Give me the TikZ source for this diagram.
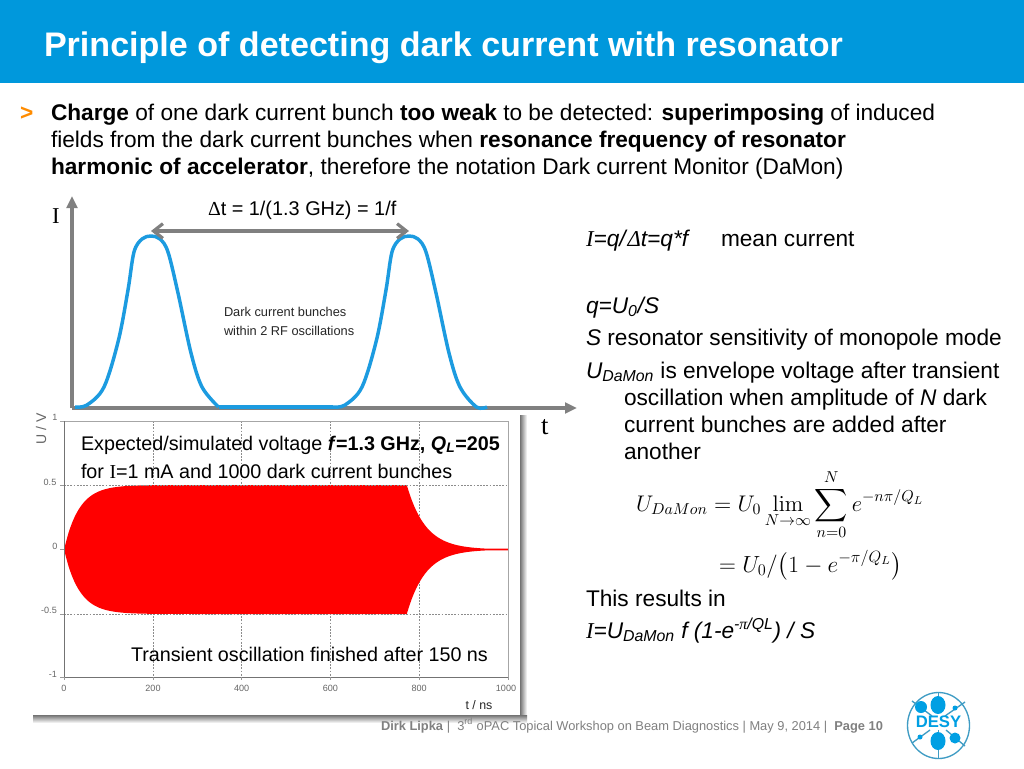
\RequirePackage{fix-cm}
\documentclass[tikz,border=0pt]{standalone}
\usepackage{amsmath}
\usepackage[no-math]{fontspec}
\setmainfont{Liberation Sans}
\newfontfamily\tms{Liberation Serif}
\usetikzlibrary{arrows.meta}
\definecolor{desyblue}{HTML}{009FE3}
\definecolor{bandblue}{HTML}{0098DC}
\definecolor{axisgray}{HTML}{808080}
\definecolor{curveblue}{HTML}{1C9BE0}
\definecolor{gridgray}{HTML}{8C8C8C}
\definecolor{logoedge}{HTML}{3F9CC4}
\definecolor{footgray}{HTML}{808080}
\tikzset{
 txt/.style={anchor=base west,inner sep=0pt,outer sep=0pt,font=\fontsize{17}{19}\selectfont,text=black},
 boxtxt/.style={txt,font=\fontsize{14.8}{17}\selectfont},
 smalltxt/.style={txt,font=\fontsize{9.6}{11}\selectfont,text=black!85},
 ticktxt/.style={anchor=center,inner sep=0pt,font=\fontsize{6.8}{8}\selectfont,text=black!60},
 axisline/.style={draw=axisgray,line width=2.4pt,-{Triangle[length=9pt,width=8pt]}},
 griddash/.style={draw=gridgray,line width=0.45pt,dash pattern=on 1.3pt off 1.1pt},
 frameline/.style={draw=black!55,line width=0.6pt},
 logoline/.style={draw=logoedge,line width=1pt},
}
\newcommand{\sy}[1]{{\tms\itshape #1}}
\begin{document}
\begin{tikzpicture}[x=0.75pt,y=-0.75pt]
\useasboundingbox (0,0) rectangle (1024,768);
\fill[white] (0,0) rectangle (1024,768);
% title band
\fill[bandblue] (0,0) rectangle (1024,83);
\node[txt,text=white,font=\fontsize{25.55}{28}\bfseries\selectfont] (title) at (44,56) {Principle of detecting dark current with resonator};
% intro
\node[txt,text=orange!90!yellow,font=\fontsize{17}{19}\bfseries\selectfont] (bullet) at (20,120) {>};
\node[txt] (l1) at (51,120) {\textbf{Charge} of one dark current bunch \textbf{too weak} to be detected: \textbf{superimposing} of induced};
\node[txt] (l2) at (51,147) {fields from the dark current bunches when \textbf{resonance frequency of resonator}};
\node[txt] (l3) at (51,174) {\textbf{harmonic of accelerator}, therefore the notation Dark current Monitor (DaMon)};
% axes
\coordinate (orig) at (72,408);
\coordinate (ytop) at (72,196);
\coordinate (xend) at (577,408);
\draw[axisline] (orig) -- (ytop);
\draw[axisline] (orig) -- (xend);
\node[txt,font=\tms\fontsize{17}{19}\selectfont] (ilabel) at (52,223) {I};
\node[txt,font=\tms\fontsize{20}{22}\selectfont] (tlabel) at (541,434) {t};
% bunches
\draw[curveblue,line width=2.6pt,line join=round] plot[smooth,tension=0.55] coordinates {
 (75,407) (87,405) (104,387) (118.5,340) (128,290) (134,252) (142,239) (151,236) (160,239) (168,252) (178,293) (191,353) (202,387) (218.5,407)};
\draw[curveblue,line width=2.6pt,line join=round] (218.5,407) -- (333,407);
\draw[curveblue,line width=2.6pt,line join=round] plot[smooth,tension=0.55] coordinates {
 (333,407) (345,405) (362,387) (376.5,340) (386,290) (392,252) (400,239) (409,236) (418,239) (426,252) (436,293) (449,353) (460,387) (476.5,407) (487,407)};
\coordinate (peakA) at (151,231);
\coordinate (peakB) at (409,231);
\draw[draw=axisgray,line width=2.4pt,{Straight Barb[length=7pt,width=11pt]}-{Straight Barb[length=7pt,width=11pt]}] (peakA) -- (peakB);
\node[txt,font=\fontsize{14.9}{17}\selectfont] (dt) at (208,215) {{\tms Δ}t = 1/(1.3 GHz) = 1/f};
\node[smalltxt] (d1) at (224,316) {Dark current bunches};
\node[smalltxt] (d2) at (224,335) {within 2 RF oscillations};
% plot panel with shadow on the right and below
\shade[left color=black!55,right color=white] (520,415) rectangle (527,716);
\shade[top color=black!55,bottom color=white] (33,715) rectangle (527,723);
\foreach \gx in {153,241.6,330.4,419.2} \draw[griddash] (\gx,421) -- (\gx,677);
% red signal
\fill[red] plot[domain=0:772,samples=70,smooth] ({64+0.444*\x},{549.5-129*0.5*(1-exp(-\x/34))})
  -- plot[domain=772:1000,samples=40] ({64+0.444*\x},{549.5-129*max(0.5*exp(-(\x-772)/42),0.006)})
  -- plot[domain=1000:772,samples=40] ({64+0.444*\x},{549.5+129*max(0.5*exp(-(\x-772)/42),0.006)})
  -- plot[domain=772:0,samples=70,smooth] ({64+0.444*\x},{549.5+129*0.5*(1-exp(-\x/34))}) -- cycle;
\foreach \gy in {485,614} \draw[griddash] (64,\gy) -- (508,\gy);
% frame
\draw[frameline,draw=black!35] (60,421) -- (508,421) -- (508,677);
\draw[frameline] (64,421) -- (64,677) -- (508,677);
\foreach \ty in {485,549.5,614,677} \draw[frameline,draw=black!40] (60,\ty) -- (64,\ty);
\foreach \tx in {64,153,241.6,330.4,419.2,508} \draw[frameline,draw=black!40] (\tx,677) -- (\tx,680);
\node[ticktxt] (y1) at (55,417) {1};
\node[ticktxt] (y2) at (50,482) {0.5};
\node[ticktxt] (y3) at (55,546) {0};
\node[ticktxt] (y4) at (49,610) {-0.5};
\node[ticktxt] (y5) at (53,674) {-1};
\node[ticktxt] (x0) at (64,688) {0};
\node[ticktxt] (x1) at (153,688) {200};
\node[ticktxt] (x2) at (241.6,688) {400};
\node[ticktxt] (x3) at (330.4,688) {600};
\node[ticktxt] (x4) at (419.2,688) {800};
\node[ticktxt] (x5) at (506,688) {1000};
\node[anchor=center,inner sep=0pt,font=\fontsize{9.3}{11}\selectfont,text=black!85] (xlab) at (479,705) {t / ns};
\node[anchor=center,inner sep=0pt,rotate=90,font=\fontsize{10.5}{12}\selectfont,text=black!60] (ylab) at (41,429) {U / V};
\node[boxtxt] (b1) at (81,450) {Expected/simulated voltage \textbf{\textit{f}=1.3 GHz, \textit{Q\textsubscript{L}}=205}};
\node[boxtxt] (b2) at (81,478) {for {\tms I}=1 mA and 1000 dark current bunches};
\node[boxtxt] (b3) at (131,661) {Transient oscillation finished after 150 ns};
% right column
\node[txt] (r1) at (586,246) {\sy{I}\textit{=q/}\sy{Δ}\textit{t=q*f}};
\node[txt] (r1b) at (721,246) {mean current};
\node[txt] (r2) at (586,313) {\textit{q=U\textsubscript{0}/S}};
\node[txt] (r3) at (586,345) {\textit{S} resonator sensitivity of monopole mode};
\node[txt] (r4) at (586,378) {\textit{U\textsubscript{DaMon}} is envelope voltage after transient};
\node[txt] (r5) at (624,405) {oscillation when amplitude of \textit{N} dark};
\node[txt] (r6) at (624,432) {current bunches are added after};
\node[txt] (r7) at (624,459) {another};
\node[txt,font=\fontsize{16.95}{19}\selectfont] (eq1) at (636,511) {$\displaystyle U_{DaMon} = U_0 \lim_{N\to\infty} \sum_{n=0}^{N} e^{-n\pi/Q_L}$};
\node[txt,font=\fontsize{17.5}{19}\selectfont] (eq2) at (719,572) {$\displaystyle = U_0/\bigl(1-e^{-\pi/Q_L}\bigr)$};
\node[txt] (r8) at (586,606) {This results in};
\node[txt] (r9) at (586,638) {\sy{I}\textit{=U\textsubscript{DaMon} f (1-e\textsuperscript{-{\tms π}/QL}) / S}};
% footer
\node[txt,text=footgray,font=\fontsize{9.64}{11}\selectfont] (foot) at (381,730) {\textbf{Dirk Lipka} |\ \ 3\textsuperscript{rd} oPAC Topical Workshop on Beam Diagnostics | May 9, 2014 |\ \ \textbf{Page 10}};
% DESY logo
\draw[logoline] (938.5,725.5) ellipse [x radius=31,y radius=33];
\draw[logoline] (938.5,692.5) -- (938.5,712);
\draw[logoline] (938.5,730) -- (938.5,758.5);
\draw[logoline] (912,701) -- (932,716);
\draw[logoline] (965,702) -- (945,716);
\draw[logoline] (912,743) -- (930,730);
\draw[logoline] (965,746) -- (946,730);
\fill[desyblue] (938,705) ellipse [x radius=7.5,y radius=9];
\fill[desyblue] (938,741) ellipse [x radius=7.5,y radius=9];
\fill[desyblue] (921,707) circle [radius=6];
\fill[desyblue] (955,738) circle [radius=5.5];
\fill[desyblue] (955,708) circle [radius=2.5];
\fill[desyblue] (920,737) circle [radius=2.5];
\node[anchor=center,inner sep=0pt,text=desyblue,font=\fontsize{12.5}{14}\bfseries\selectfont] (desy) at (938.5,721.5) {DESY};
\end{tikzpicture}
\end{document}
